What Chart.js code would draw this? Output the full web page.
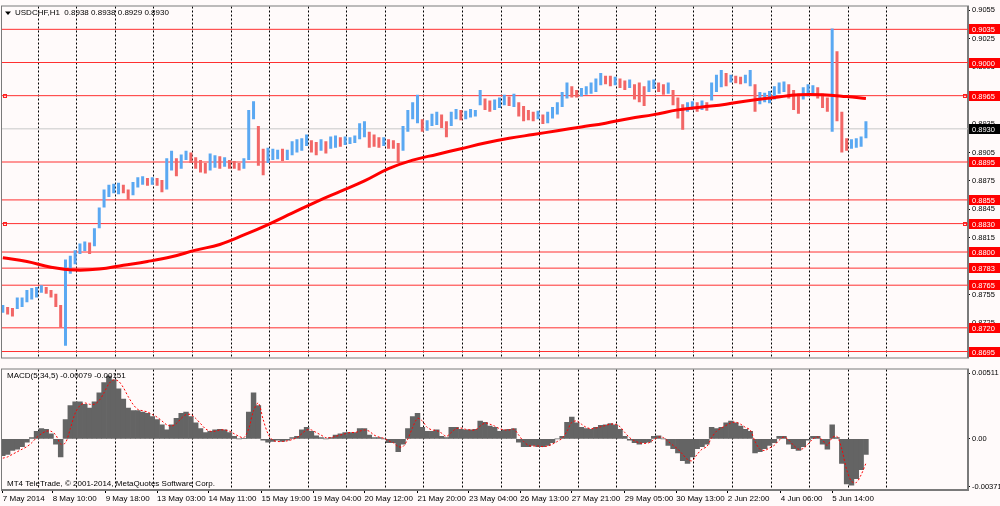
<!DOCTYPE html>
<html>
<head>
<meta charset="utf-8">
<script src="https://cdn.jsdelivr.net/npm/chart.js@4.4.1/dist/chart.umd.min.js"></script>
<style>
html, body { margin: 0; padding: 0; background: #fffafa; }
#wrap { position: relative; width: 1000px; height: 506px; overflow: hidden; background: #fffafa; }
#c1 { position: absolute; left: 0; top: 0; }
#c2 { position: absolute; left: 0; top: 363px; }
</style>
</head>
<body>
<div id="wrap">
  <canvas id="c1" width="1000" height="364"></canvas>
  <canvas id="c2" width="1000" height="143"></canvas>
</div>
<script>
// ---------------- DATA ----------------
const headerText = 'USDCHF,H1  0.8938 0.8938 0.8929 0.8930';
const macdText = 'MACD(5,34,5) -0.00079 -0.00151';
const copyrightText = 'MT4 TeleTrade, \u00A9 2001-2014, MetaQuotes Software Corp.';

// one sampled price bar every 3 hourly bars
const BAR_STEP = 3;

const priceHigh = [
  0.8744,0.8742,0.8741,0.8752,0.8752,0.8760,0.8762,0.8763,0.8765,0.8763,
  0.8760,0.8756,0.8744,0.8792,0.8796,0.8802,0.8809,0.8811,0.8810,0.8825,
  0.8847,0.8866,0.8871,0.8872,0.8873,0.8871,0.8866,0.8874,0.8879,0.8880,
  0.8878,0.8879,0.8878,0.8876,0.8899,0.8907,0.8899,0.8903,0.8907,0.8905,
  0.8900,0.8897,0.8894,0.8904,0.8902,0.8901,0.8900,0.8897,0.8896,0.8894,
  0.8899,0.8950,0.8959,0.8933,0.8909,0.8910,0.8909,0.8908,0.8909,0.8908,
  0.8917,0.8919,0.8920,0.8924,0.8918,0.8916,0.8919,0.8917,0.8922,0.8923,
  0.8921,0.8922,0.8921,0.8923,0.8936,0.8938,0.8927,0.8924,0.8921,0.8921,
  0.8919,0.8918,0.8915,0.8933,0.8950,0.8958,0.8966,0.8940,0.8939,0.8946,
  0.8948,0.8945,0.8938,0.8948,0.8951,0.8950,0.8949,0.8951,0.8950,0.8971,
  0.8962,0.8960,0.8961,0.8963,0.8966,0.8964,0.8967,0.8958,0.8954,0.8950,
  0.8948,0.8949,0.8945,0.8948,0.8953,0.8958,0.8969,0.8979,0.8975,0.8971,
  0.8973,0.8975,0.8979,0.8983,0.8989,0.8986,0.8986,0.8985,0.8983,0.8981,
  0.8982,0.8977,0.8979,0.8975,0.8981,0.8982,0.8979,0.8977,0.8979,0.8971,
  0.8963,0.8956,0.8958,0.8959,0.8958,0.8960,0.8958,0.8979,0.8987,0.8992,
  0.8989,0.8987,0.8986,0.8985,0.8987,0.8992,0.8977,0.8969,0.8968,0.8970,
  0.8975,0.8979,0.8980,0.8977,0.8971,0.8967,0.8974,0.8977,0.8976,0.8974,
  0.8967,0.8963,0.9036,0.9012,0.8948,0.8920,0.8919,0.8920,0.8922,0.8938
];
const priceLow = [
  0.8736,0.8734,0.8732,0.8740,0.8742,0.8747,0.8750,0.8752,0.8757,0.8756,
  0.8752,0.8742,0.8720,0.8701,0.8777,0.8787,0.8798,0.8801,0.8798,0.8806,
  0.8825,0.8847,0.8858,0.8862,0.8861,0.8862,0.8855,0.8860,0.8868,0.8871,
  0.8870,0.8871,0.8870,0.8863,0.8866,0.8886,0.8880,0.8888,0.8897,0.8894,
  0.8888,0.8884,0.8883,0.8886,0.8889,0.8888,0.8890,0.8888,0.8888,0.8886,
  0.8888,0.8897,0.8940,0.8891,0.8881,0.8894,0.8897,0.8898,0.8896,0.8897,
  0.8902,0.8905,0.8907,0.8912,0.8905,0.8902,0.8907,0.8904,0.8909,0.8910,
  0.8911,0.8913,0.8914,0.8915,0.8919,0.8921,0.8910,0.8911,0.8910,0.8912,
  0.8909,0.8909,0.8894,0.8907,0.8927,0.8940,0.8936,0.8927,0.8928,0.8933,
  0.8934,0.8931,0.8921,0.8933,0.8940,0.8939,0.8940,0.8942,0.8943,0.8955,
  0.8950,0.8948,0.8950,0.8952,0.8955,0.8954,0.8953,0.8943,0.8938,0.8939,
  0.8938,0.8940,0.8935,0.8936,0.8941,0.8945,0.8953,0.8962,0.8963,0.8963,
  0.8964,0.8966,0.8967,0.8969,0.8976,0.8977,0.8975,0.8976,0.8973,0.8971,
  0.8973,0.8961,0.8958,0.8954,0.8969,0.8972,0.8969,0.8966,0.8967,0.8955,
  0.8941,0.8929,0.8948,0.8950,0.8948,0.8950,0.8949,0.8960,0.8969,0.8974,
  0.8975,0.8979,0.8978,0.8977,0.8978,0.8975,0.8948,0.8956,0.8958,0.8957,
  0.8961,0.8967,0.8969,0.8962,0.8950,0.8946,0.8961,0.8964,0.8967,0.8962,
  0.8952,0.8948,0.8927,0.8938,0.8905,0.8907,0.8909,0.8910,0.8911,0.8920
];

// moving average (thick red line), hourly-bar positions and values
const maBars = [0,15,30,45,60,75,90,105,120,135,150,165,180,195,210,225,240,255,270,285,
                300,315,330,345,360,375,390,405,420,435,450,465,480,495,510,525,537];
const maValues = [0.8794,0.8790,0.8784,0.8781,0.8782,0.8786,0.8790,0.8795,0.8802,0.8808,
                  0.8818,0.8829,0.8841,0.8853,0.8864,0.8875,0.8888,0.8897,0.8903,0.8909,
                  0.8915,0.8920,0.8924,0.8928,0.8932,0.8936,0.8941,0.8945,0.8950,0.8953,
                  0.8956,0.8960,0.8963,0.8966,0.8966,0.8964,0.8962];

const macdHist = [
  -0.0013,-0.0012,-0.0009,-0.0008,-0.0006,-0.00025,0.0001,0.0006,0.0008,0.00075,
  0.0004,-0.0004,-0.0014,0.0015,0.0026,0.0029,0.0029,0.0027,0.0024,0.0029,
  0.0036,0.0044,0.0049,0.0046,0.0039,0.0031,0.0024,0.0022,0.0022,0.0021,
  0.0020,0.00175,0.0015,0.0011,0.0007,0.0011,0.0016,0.0020,0.0021,0.00175,
  0.00125,0.0008,0.0005,0.0006,0.0007,0.00075,0.0007,0.0005,0.0002,0.0000,
  0.00005,0.0021,0.0036,0.0026,-0.0001,-0.00025,-0.0002,-0.0001,-0.0002,-0.0001,
  0.0001,0.0002,0.0007,0.0009,0.0006,0.00025,0.0001,0.0000,0.0001,0.0003,
  0.0004,0.0005,0.0005,0.0005,0.0008,0.0008,0.0003,0.0001,0.0001,0.0000,
  -0.0003,-0.0003,-0.0010,-0.0004,0.0008,0.00175,0.0020,0.0009,0.0006,0.0006,
  0.0007,0.0002,0.0001,0.0009,0.0009,0.00075,0.0007,0.0007,0.00075,0.0014,
  0.0013,0.0010,0.0009,0.0006,0.0007,0.00075,0.0008,-0.00025,-0.0006,-0.0006,
  -0.0005,-0.0006,-0.0006,-0.0005,-0.0003,0.0000,0.0002,0.0013,0.0017,0.00125,
  0.0009,0.0008,0.00075,0.0009,0.00105,0.0011,0.0012,0.0011,0.00075,0.0002,
  -0.0001,-0.0003,-0.0004,-0.0003,-0.00025,0.0002,0.00025,0.0000,-0.0005,-0.00075,
  -0.0011,-0.0017,-0.0019,-0.0014,-0.00075,-0.0006,-0.0004,0.0009,0.0008,0.0009,
  0.00125,0.0014,0.00125,0.0010,0.00075,0.0006,-0.0011,-0.0010,-0.00075,-0.0005,
  -0.0003,0.0002,0.0002,-0.0004,-0.00075,-0.0009,-0.0006,-0.0001,0.0002,0.0002,
  -0.0004,-0.0008,0.0011,0.0001,-0.0019,-0.0035,-0.0036,-0.0031,-0.0024,-0.0012
];
const macdSignal = [
  -0.0015,-0.0014,-0.0012,-0.0010,-0.0008,-0.0006,-0.0003,0.0001,0.0004,0.0006,
  0.0006,0.0003,-0.0004,-0.0003,0.0008,0.0020,0.0026,0.0028,0.0027,0.0027,
  0.0030,0.0036,0.0043,0.0046,0.0045,0.0040,0.0033,0.0027,0.0023,0.0022,
  0.0021,0.0019,0.0017,0.0014,0.0011,0.0010,0.0012,0.0016,0.0019,0.0019,
  0.0016,0.0012,0.0008,0.0006,0.0006,0.0007,0.0007,0.0006,0.0004,0.0002,
  0.0001,0.0008,0.0022,0.0028,0.0015,0.0004,-0.0001,-0.0002,-0.0002,-0.00015,
  -0.00005,0.0001,0.0004,0.0007,0.0007,0.0005,0.0003,0.0001,0.0001,0.0002,
  0.0003,0.0004,0.0005,0.0005,0.0006,0.0007,0.0006,0.0003,0.00015,0.00005,
  -0.00015,-0.0003,-0.0006,-0.0006,0.0000,0.0009,0.0016,0.0014,0.0009,0.0007,
  0.00065,0.00045,0.0002,0.0005,0.0008,0.00085,0.00075,0.0007,0.0007,0.0010,
  0.00125,0.00115,0.0010,0.0008,0.0007,0.0007,0.00075,0.0003,-0.0002,-0.0005,
  -0.00055,-0.00055,-0.0006,-0.00055,-0.0004,-0.0002,0.00005,0.0006,0.0013,0.0014,
  0.00115,0.0009,0.0008,0.00085,0.00095,0.00105,0.00115,0.00115,0.00095,0.0005,
  0.0001,-0.00015,-0.0003,-0.00035,-0.0003,-0.00005,0.00015,0.0001,-0.0002,-0.0005,
  -0.0008,-0.0012,-0.0016,-0.0017,-0.0012,-0.0008,-0.0006,0.0001,0.0006,0.00085,
  0.00105,0.00125,0.0013,0.00115,0.0009,0.0007,-0.0002,-0.0008,-0.0009,-0.0007,
  -0.0005,-0.0001,0.00015,-0.0001,-0.0005,-0.0008,-0.00075,-0.0004,0.0000,0.00015,
  -0.0001,-0.0005,0.0001,0.0002,-0.0008,-0.0024,-0.0033,-0.0034,-0.0028,-0.0019
];

const levelLines = [0.9035, 0.9000, 0.8965, 0.8895, 0.8855, 0.8830, 0.8800, 0.8783, 0.8765, 0.8720, 0.8695];
const anchoredLevels = [0.8965, 0.8830];
const currentPrice = 0.8930;
const priceTicks = [0.9055, 0.9025, 0.8995, 0.8965, 0.8935, 0.8905, 0.8875, 0.8845, 0.8815, 0.8785, 0.8755, 0.8725];
const macdTicks = [0.00511, 0, -0.00371];
const timeLabels = ['7 May 2014', '8 May 10:00', '9 May 18:00', '13 May 03:00', '14 May 11:00', '15 May 19:00',
  '19 May 04:00', '20 May 12:00', '21 May 20:00', '23 May 04:00', '26 May 13:00', '27 May 21:00',
  '29 May 05:00', '30 May 13:00', '2 Jun 22:00', '4 Jun 06:00', '5 Jun 14:00'];
const timeLabelBars = [0, 31, 64, 96, 128, 161, 193, 225, 258, 290, 322, 354, 387, 419, 451, 484, 516];

// ---------------- CONFIG ----------------
const FONT_FAMILY = "'Liberation Sans', Arial, sans-serif";
const FS = 7.5;
const FS_X = 8;
const X_MIN = -0.5, X_MAX = 600.5;
const PRICE_MIN = 0.86887, PRICE_MAX = 0.90591;
const MACD_MIN = -0.00398, MACD_MAX = 0.00541;
const gridBars = [];
for (let b = 22; b <= 550; b += 24) gridBars.push(b);

const UP = '#5aa8f2', DOWN = '#f26666';
const barColors = priceHigh.map((h, i) => {
  if (i === 0) return UP;
  const mid = (h + priceLow[i]) / 2, prev = (priceHigh[i - 1] + priceLow[i - 1]) / 2;
  return mid >= prev ? UP : DOWN;
});

const dashedGridAxis = {
  type: 'linear', min: X_MIN, max: X_MAX, position: 'bottom', offset: false,
  afterBuildTicks: s => { s.ticks = gridBars.map(v => ({ value: v })); },
  afterFit: s => { s.height = 0; },
  ticks: { display: false },
  grid: { display: true, drawTicks: false, offset: false, color: '#000', lineWidth: 1 },
  border: { display: false, dash: [2, 2] }
};

const mainDecor = {
  id: 'mainDecor',
  afterDraw(chart) {
    const { ctx, chartArea: a, scales } = chart;
    const y = scales.y;
    ctx.save();
    ctx.strokeStyle = '#7a7a7a';
    ctx.lineWidth = 1;
    ctx.strokeRect(a.left - 0.5, a.top - 0.5, a.right - a.left + 1, a.bottom - a.top + 1);
    ctx.fillStyle = '#000';
    ctx.beginPath();
    ctx.moveTo(a.left + 3, a.top + 5);
    ctx.lineTo(a.left + 9, a.top + 5);
    ctx.lineTo(a.left + 6, a.top + 8.5);
    ctx.closePath();
    ctx.fill();
    ctx.font = FS_X + 'px ' + FONT_FAMILY;
    ctx.textBaseline = 'middle';
    ctx.textAlign = 'left';
    ctx.fillText(headerText, a.left + 13, a.top + 6.5);
    ctx.strokeStyle = '#ff2020';
    anchoredLevels.forEach(v => {
      const py = Math.round(y.getPixelForValue(v)) + 0.5;
      ctx.strokeRect(a.left + 1.5, py - 2, 3, 3);
      ctx.strokeRect(a.right - 4.5, py - 2, 3, 3);
    });
    ctx.font = FS + 'px ' + FONT_FAMILY;
    levelLines.forEach(v => {
      const py = Math.round(y.getPixelForValue(v));
      ctx.fillStyle = '#ff0000';
      ctx.fillRect(a.right + 1, py - 5, 31, 10);
      ctx.fillStyle = '#fff';
      ctx.fillText(v.toFixed(4), a.right + 4, py + 0.5);
    });
    const cp = Math.round(y.getPixelForValue(currentPrice));
    ctx.fillStyle = '#000';
    ctx.fillRect(a.right + 1, cp - 5, 31, 10);
    ctx.fillStyle = '#fff';
    ctx.fillText(currentPrice.toFixed(4), a.right + 4, cp + 0.5);
    ctx.restore();
  }
};

const macdDecor = {
  id: 'macdDecor',
  afterDraw(chart) {
    const { ctx, chartArea: a } = chart;
    ctx.save();
    ctx.strokeStyle = '#7a7a7a';
    ctx.lineWidth = 1;
    ctx.strokeRect(a.left - 0.5, a.top - 0.5, a.right - a.left + 1, a.bottom - a.top + 1);
    ctx.fillStyle = '#000';
    ctx.font = FS_X + 'px ' + FONT_FAMILY;
    ctx.textBaseline = 'middle';
    ctx.textAlign = 'left';
    ctx.fillText(macdText, a.left + 5, a.top + 6);
    ctx.fillText(copyrightText, a.left + 5, a.bottom - 6);
    ctx.restore();
  }
};

const levelDatasets = levelLines.map(v => ({
  type: 'line', data: [{ x: X_MIN, y: v }, { x: X_MAX, y: v }],
  borderColor: '#ff3030', borderWidth: 1, pointRadius: 0, order: 5
}));

new Chart(document.getElementById('c1'), {
  type: 'bar',
  data: {
    datasets: [
      {
        type: 'line', label: 'MA',
        data: maBars.map((b, i) => ({ x: b, y: maValues[i] })),
        borderColor: '#ff0000', borderWidth: 3, pointRadius: 0, tension: 0.4, order: 0
      },
      {
        type: 'bar', label: 'USDCHF',
        data: priceHigh.map((h, i) => ({ x: i * BAR_STEP, y: [priceLow[i], h] })),
        backgroundColor: barColors, borderWidth: 0, barThickness: 3, inflateAmount: 0, order: 1
      },
      {
        type: 'line', data: [{ x: X_MIN, y: currentPrice }, { x: X_MAX, y: currentPrice }],
        borderColor: '#c8c8c8', borderWidth: 1, pointRadius: 0, order: 6
      },
      ...levelDatasets
    ]
  },
  options: {
    responsive: false, animation: false, events: [],
    layout: { padding: { left: 2, top: 2, right: 0, bottom: 2 } },
    plugins: { legend: { display: false }, tooltip: { enabled: false }, title: { display: false } },
    scales: {
      x: dashedGridAxis,
      y: {
        position: 'right', min: PRICE_MIN, max: PRICE_MAX,
        afterBuildTicks: s => { s.ticks = priceTicks.map(v => ({ value: v })); },
        afterFit: s => { s.width = 32; },
        ticks: { color: '#000', font: { size: FS, family: FONT_FAMILY }, padding: 2, callback: v => v.toFixed(4) },
        grid: { drawOnChartArea: false, drawTicks: true, tickLength: 2, color: '#000' },
        border: { display: true, color: '#7a7a7a', width: 2 }
      }
    }
  },
  plugins: [mainDecor]
});

new Chart(document.getElementById('c2'), {
  type: 'bar',
  data: {
    datasets: [
      {
        type: 'line', label: 'Signal',
        data: macdSignal.map((v, i) => ({ x: i * BAR_STEP, y: v })),
        borderColor: '#ff0000', borderWidth: 1, borderDash: [2, 2], pointRadius: 0, tension: 0.3, order: 0
      },
      {
        type: 'bar', label: 'MACD',
        data: macdHist.map((v, i) => ({ x: i * BAR_STEP, y: v })),
        backgroundColor: '#646464', borderWidth: 0, barPercentage: 1, categoryPercentage: 1, order: 1
      }
    ]
  },
  options: {
    responsive: false, animation: false, events: [],
    layout: { padding: { left: 2, top: 2, right: 0, bottom: 0 } },
    plugins: { legend: { display: false }, tooltip: { enabled: false }, title: { display: false } },
    scales: {
      x: {
        type: 'linear', min: X_MIN, max: X_MAX, position: 'bottom', offset: false,
        afterBuildTicks: s => { s.ticks = timeLabelBars.map(v => ({ value: v })); },
        afterFit: s => { s.height = 16; },
        ticks: {
          autoSkip: false, maxRotation: 0, minRotation: 0, align: 'start', padding: 1,
          color: '#000', font: { size: FS_X, family: FONT_FAMILY },
          callback: (v, i) => timeLabels[i]
        },
        grid: { drawOnChartArea: false, drawTicks: true, offset: false, tickLength: 3, color: '#000' },
        border: { display: true, color: '#7a7a7a', width: 2 }
      },
      xg: dashedGridAxis,
      y: {
        position: 'right', min: MACD_MIN, max: MACD_MAX,
        afterBuildTicks: s => { s.ticks = macdTicks.map(v => ({ value: v })); },
        afterFit: s => { s.width = 32; },
        ticks: { color: '#000', font: { size: FS, family: FONT_FAMILY }, padding: 2,
          callback: v => (v === 0 ? '0.00' : v.toFixed(5)) },
        grid: { drawOnChartArea: false, drawTicks: true, tickLength: 2, color: '#000' },
        border: { display: true, color: '#7a7a7a', width: 2 }
      }
    }
  },
  plugins: [macdDecor]
});
</script>
</body>
</html>
